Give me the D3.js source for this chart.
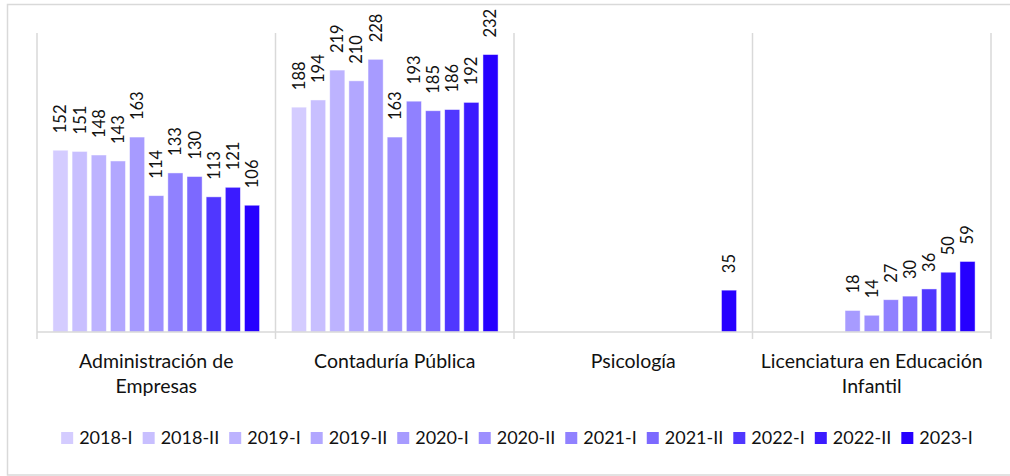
<!DOCTYPE html>
<html>
<head>
<meta charset="utf-8">
<script src="https://cdn.jsdelivr.net/npm/d3@7"></script>
<style>
  body { margin: 0; background: #fff; }
  svg text { font-family: Lato, "Noto Sans", sans-serif; fill: #111; }
</style>
</head>
<body>
<div id="chart"></div>
<script>
// programs on the x axis (second line after "|")
var programs = ["Administración de|Empresas", "Contaduría Pública", "Psicología", "Licenciatura en Educación|Infantil"];
var periods = ["2018-I", "2018-II", "2019-I", "2019-II", "2020-I", "2020-II", "2021-I", "2021-II", "2022-I", "2022-II", "2023-I"];
var colors = ["#d4ccff", "#c8bfff", "#bdb3ff", "#b2a7ff", "#a79bff", "#9d8fff", "#9081ff", "#7c69ff", "#5037ff", "#3b1bff", "#2600ff"];

// one array per program, null where no bar
var adminValues = [152, 151, 148, 143, 163, 114, 133, 130, 113, 121, 106];
var contaduriaValues = [188, 194, 219, 210, 228, 163, 193, 185, 186, 192, 232];
var psicologiaValues = [null, null, null, null, null, null, null, null, null, null, 35];
var licenciaturaValues = [null, null, null, null, 18, 14, 27, 30, 36, 50, 59];
var yMax = 250;

var table = [adminValues, contaduriaValues, psicologiaValues, licenciaturaValues];

var width = 1010, height = 476;
var plot = {left: 37, right: 991, top: 33, bottom: 332};

var svg = d3.select("#chart").append("svg")
   .attr("width", width).attr("height", height);

// outer frame
svg.append("rect")
   .attr("x", 7.5).attr("y", 4.5)
   .attr("width", 1010).attr("height", 470.5)
   .attr("fill", "none").attr("stroke", "#d9d9d9").attr("stroke-width", 1.5);

var x0 = d3.scaleBand().domain(programs).range([plot.left, plot.right]).padding(0);
var x1 = d3.scaleBand().domain(periods).range([14, x0.bandwidth() - 14]).paddingInner(0.21).paddingOuter(0.1);
var y = d3.scaleLinear().domain([0, yMax]).range([plot.bottom, plot.top]);

// vertical category separators
var seps = programs.map(function(p){ return x0(p); }).concat([plot.right]);
svg.append("g").selectAll("line").data(seps).enter()
   .append("line")
   .attr("x1", function(d){ return d; }).attr("x2", function(d){ return d; })
   .attr("y1", plot.top).attr("y2", plot.bottom + 7)
   .attr("stroke", "#d9d9d9").attr("stroke-width", 1.5);

// bars
var groups = svg.append("g").selectAll("g").data(programs).enter()
   .append("g")
   .attr("transform", function(d){ return "translate(" + x0(d) + ",0)"; });

var cells = groups.selectAll("g.cell")
   .data(function(d, i){
      return periods.map(function(p, j){ return {period: p, value: table[i][j], idx: j}; })
         .filter(function(c){ return c.value != null; });
   })
   .enter().append("g").attr("class", "cell");

cells.append("rect")
   .attr("x", function(d){ return x1(d.period); })
   .attr("width", x1.bandwidth())
   .attr("y", function(d){ return y(d.value); })
   .attr("height", function(d){ return y(0) - y(d.value); })
   .attr("fill", function(d){ return colors[d.idx]; })
   .attr("stroke", "#ffffff").attr("stroke-opacity", 0.6).attr("stroke-width", 0.8);

cells.append("text")
   .attr("transform", function(d){
      return "translate(" + (x1(d.period) + x1.bandwidth() / 2) + "," + (y(d.value) - 17) + ") rotate(-90)";
   })
   .attr("dy", "0.36em")
   .style("font-size", "16.5px")
   .text(function(d){ return d.value; });

// baseline
svg.append("line")
   .attr("x1", plot.left).attr("x2", plot.right)
   .attr("y1", plot.bottom).attr("y2", plot.bottom)
   .attr("stroke", "#d9d9d9").attr("stroke-width", 1.5);

// category labels
var catLabels = svg.append("g").selectAll("text").data(programs).enter()
   .append("text")
   .attr("text-anchor", "middle")
   .style("font-size", "19.5px");
catLabels.each(function(d){
   var lines = d.split("|");
   var t = d3.select(this);
   lines.forEach(function(s, i){
      t.append("tspan")
         .attr("x", x0(d) + x0.bandwidth() / 2)
         .attr("y", 368 + i * 25)
         .text(s);
   });
});

// legend
var legend = svg.append("g");
var items = legend.selectAll("g").data(periods).enter().append("g");
items.append("rect")
   .attr("width", 12).attr("height", 12)
   .attr("y", 432)
   .attr("fill", function(d, i){ return colors[i]; });
items.append("text")
   .attr("x", 18).attr("y", 444)
   .style("font-size", "18px")
   .text(function(d){ return d; });
var xpos = 0;
items.each(function(){
   var w = d3.select(this).select("text").node().getComputedTextLength();
   d3.select(this).attr("transform", "translate(" + xpos + ",0)");
   xpos += 18 + w + 10;
});
var legendWidth = xpos - 10;
legend.attr("transform", "translate(" + (517 - legendWidth / 2) + ",0)");
</script>
</body>
</html>
